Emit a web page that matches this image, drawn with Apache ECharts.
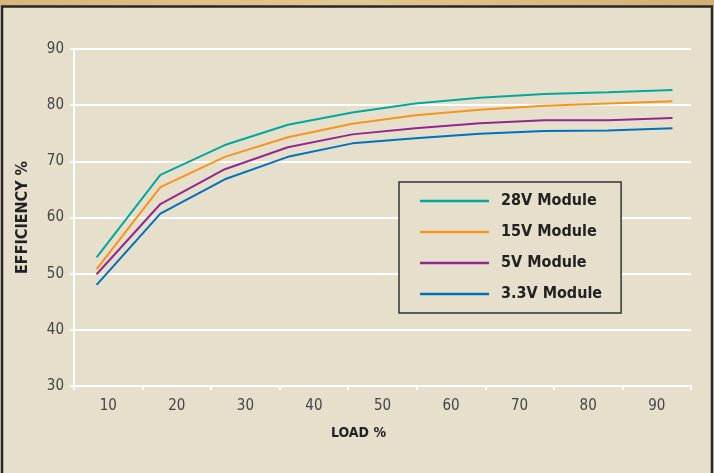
<!DOCTYPE html>
<html>
<head>
<meta charset="utf-8">
<script src="https://cdn.jsdelivr.net/npm/echarts@6/dist/echarts.min.js"></script>
<style>
  html, body { margin: 0; padding: 0; background: #e6dfcc; }
  #main { width: 714px; height: 473px; }
</style>
</head>
<body>
<div id="main"></div>
<script>
// 数据：负载 % 与各模块效率 %
var loadPct = [8.3, 17.6, 27.0, 36.2, 45.6, 54.8, 64.2, 73.6, 82.9, 92.3];
var xLabels = ['10', '20', '30', '40', '50', '60', '70', '80', '90'];
var eff28V = [52.9, 67.6, 72.9, 76.5, 78.7, 80.3, 81.3, 82.0, 82.3, 82.7];
var eff15V = [50.8, 65.4, 70.8, 74.3, 76.7, 78.2, 79.2, 79.9, 80.3, 80.7];
var eff5V = [49.9, 62.4, 68.6, 72.5, 74.8, 75.9, 76.8, 77.3, 77.3, 77.7];
var eff33V = [48.0, 60.7, 66.8, 70.8, 73.2, 74.1, 74.9, 75.4, 75.5, 75.9];

var font = "'Liberation Sans Narrow', 'DejaVu Sans Condensed', 'Arial Narrow', sans-serif";

// 组合成 [x, y]
function pairs(ys) {
    return ys.map(function (y, i) { return [loadPct[i], y]; });
}

var myChart = echarts.init(document.getElementById('main'));

var seriesDefs = [
    { name: '28V Module', color: '#00a99d', data: eff28V },
    { name: '15V Module', color: '#f7941d', data: eff15V },
    { name: '5V Module', color: '#92278f', data: eff5V },
    { name: '3.3V Module', color: '#0072bc', data: eff33V }
];

var option = {
    backgroundColor: '#e6dfcc',
    animation: false,
    textStyle: { fontFamily: font },
    grid: { left: 74, right: 23, top: 49, bottom: 87 },
    graphic: [
        // 顶部金色条
        {
            type: 'rect', shape: { x: 0, y: 0, width: 714, height: 6 }, silent: true,
            style: {
                fill: new echarts.graphic.LinearGradient(0, 0, 1, 0, [
                    { offset: 0, color: '#d6b67e' },
                    { offset: 0.5, color: '#e2c894' },
                    { offset: 1, color: '#cfae74' }
                ])
            }
        },
        // 外框
        {
            type: 'rect', shape: { x: 2, y: 6.5, width: 710, height: 470 }, silent: true,
            style: { fill: 'none', stroke: '#2b2624', lineWidth: 2.5 }
        }
    ],
    legend: {
        orient: 'vertical',
        left: 399,
        top: 182,
        padding: [11, 19, 11, 21],
        itemGap: 15,
        itemWidth: 69,
        itemHeight: 2.5,
        icon: 'rect',
        borderColor: '#333',
        borderWidth: 1.5,
        backgroundColor: '#e6dfcc',
        textStyle: {
            fontFamily: font, fontWeight: 'bold', fontSize: 16, color: '#222',
            padding: [0, 0, 0, 7]
        },
        data: seriesDefs.map(function (s) { return s.name; })
    },
    xAxis: [
        {
            type: 'category',
            data: xLabels,
            boundaryGap: true,
            name: 'LOAD %',
            nameLocation: 'middle',
            nameGap: 40,
            nameTextStyle: {
                fontFamily: font, fontWeight: 'bold', fontSize: 14, color: '#222',
                padding: [0, 48, 0, 0]
            },
            axisLine: { lineStyle: { color: '#fff', width: 2 } },
            axisTick: { show: true, length: 4, lineStyle: { color: '#fff', width: 2 } },
            axisLabel: { color: '#444', fontSize: 15, margin: 13, fontFamily: font },
            splitLine: { show: false }
        },
        {
            type: 'value',
            min: 5,
            max: 95,
            show: false
        }
    ],
    yAxis: {
        type: 'value',
        min: 30,
        max: 90,
        interval: 10,
        name: 'EFFICIENCY %',
        nameLocation: 'middle',
        nameGap: 43,
        nameTextStyle: { fontFamily: font, fontWeight: 'bold', fontSize: 16, color: '#222' },
        axisLine: { show: true, lineStyle: { color: '#fff', width: 2 } },
        axisTick: { show: true, length: 4, lineStyle: { color: '#fff', width: 2 } },
        axisLabel: { color: '#444', fontSize: 15, margin: 10, fontFamily: font },
        splitLine: { show: true, lineStyle: { color: '#fff', width: 2 } }
    },
    series: seriesDefs.map(function (s) {
        return {
            name: s.name,
            type: 'line',
            xAxisIndex: 1,
            data: pairs(s.data),
            showSymbol: false,
            symbol: 'none',
            color: s.color,
            lineStyle: { color: s.color, width: 2 }
        };
    })
};

myChart.setOption(option);
</script>
</body>
</html>
